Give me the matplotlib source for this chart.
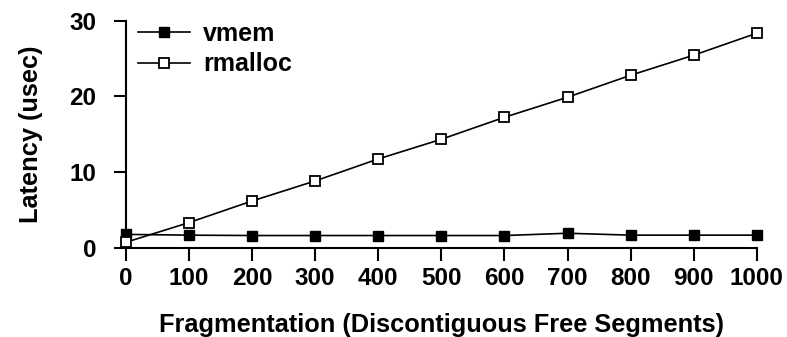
import matplotlib
matplotlib.use("Agg")
import matplotlib.pyplot as plt

x = [0, 100, 200, 300, 400, 500, 600, 700, 800, 900, 1000]
vmem = [1.8, 1.7, 1.65, 1.65, 1.65, 1.65, 1.65, 1.95, 1.7, 1.7, 1.7]
rmalloc = [0.75, 3.35, 6.2, 8.85, 11.75, 14.35, 17.25, 19.9, 22.8, 25.45, 28.35]
xticks = [0, 100, 200, 300, 400, 500, 600, 700, 800, 900, 1000]
yticks = [0, 10, 20, 30]

plt.rcParams['font.family'] = ['Liberation Sans', 'DejaVu Sans']
plt.rcParams['font.weight'] = 'bold'

fig = plt.figure(figsize=(7.87, 3.37), dpi=100)
ax = fig.add_axes([0.1597, 0.264, 0.802, 0.6746])

ax.plot(x, vmem, color='black', lw=1.2, marker='s', markersize=7.5,
        markerfacecolor='black', markeredgecolor='black', label='vmem', clip_on=False, zorder=3)
ax.plot(x, rmalloc, color='black', lw=1.2, marker='s', markersize=7.5,
        markerfacecolor='white', markeredgecolor='black', markeredgewidth=1.3,
        label='rmalloc', clip_on=False, zorder=4)

ax.set_xlim(0, 1000)
ax.set_ylim(0, 30)
ax.set_xticks(xticks)
ax.set_yticks(yticks)
ax.tick_params(axis='both', direction='out', length=9, width=1.5, labelsize=17.5)
ax.tick_params(axis='x', pad=5)
ax.tick_params(axis='y', pad=12)
for s in ['top', 'right']:
    ax.spines[s].set_visible(False)
for s in ['left', 'bottom']:
    ax.spines[s].set_linewidth(1.5)

ax.set_xlabel('Fragmentation (Discontiguous Free Segments)', fontsize=18.3, fontweight='bold', labelpad=16)
ax.set_ylabel('Latency (usec)', fontsize=18.3, fontweight='bold', labelpad=19)

leg = ax.legend(loc='upper left', bbox_to_anchor=(0.0195, 0.994), frameon=False, fontsize=18,
                handlelength=2.1, handletextpad=0.5, labelspacing=0.25, borderaxespad=0.0, borderpad=0.0)

fig.savefig('out.png', dpi=100)
